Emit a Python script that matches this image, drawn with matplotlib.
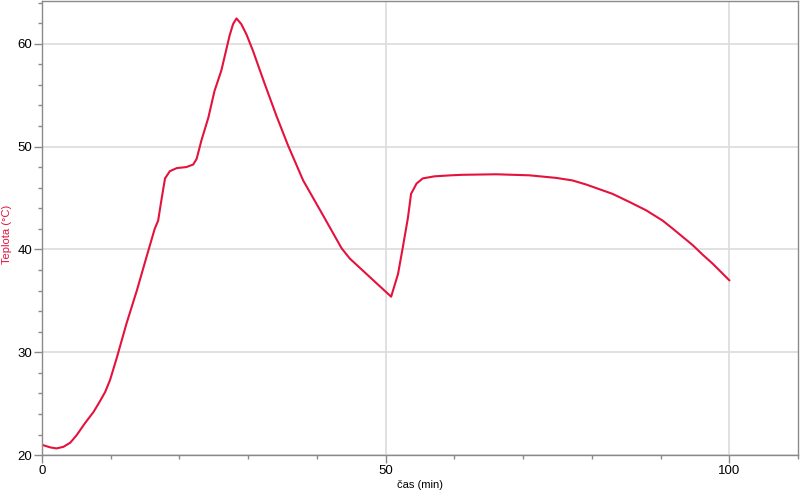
import matplotlib
matplotlib.use("Agg")
import matplotlib.pyplot as plt
from matplotlib.ticker import MultipleLocator

# čas (min) a teplota (°C)
cas = [0.0, 1.2, 2.1, 3.1, 4.1, 5.0, 6.25, 7.5, 8.4, 9.2, 9.9, 10.9, 12.3, 13.8, 15.2,
       16.4, 16.9, 17.4, 17.9, 18.6, 19.6, 21.0, 22.0, 22.5, 23.2, 24.2, 25.1, 26.1,
       27.3, 27.8, 28.3, 29.0, 29.75, 30.7, 32.4, 34.1, 35.8, 38.0, 40.9, 43.6, 44.8,
       48.2, 50.8,
       51.8, 52.5, 53.25, 53.7, 54.5, 55.4, 57.1, 59.5, 61.2, 66.1, 70.9, 74.8, 77.2,
       79.2, 83.0, 85.5, 87.9, 90.3, 91.8, 94.7, 96.1, 97.6, 100.0]
teplota = [21.0, 20.75, 20.65, 20.8, 21.2, 21.9, 23.1, 24.2, 25.2, 26.15, 27.3, 29.5, 32.8, 36.0, 39.25,
           42.0, 42.8, 44.9, 46.9, 47.6, 47.9, 48.0, 48.25, 48.8, 50.6, 52.8, 55.4, 57.4,
           60.8, 61.9, 62.45, 61.9, 60.9, 59.3, 56.1, 53.0, 50.1, 46.7, 43.3, 40.1, 39.1,
           37.0, 35.4,
           37.6, 40.2, 43.1, 45.4, 46.4, 46.9, 47.1, 47.2, 47.25, 47.3, 47.2, 46.95, 46.7,
           46.3, 45.4, 44.6, 43.8, 42.8, 42.0, 40.4, 39.5, 38.6, 37.0]

barva = "#E4123C"
osy = "#8a8a8a"

plt.rcParams['font.family'] = ['Liberation Sans', 'DejaVu Sans']

fig = plt.figure(figsize=(8, 4.92), dpi=100)
ax = fig.add_axes([0.0525, 0.075, 0.945, 0.922])

ax.plot(cas, teplota, color=barva, lw=1.5, solid_joinstyle="round")

ax.set_xlim(0, 110)
ax.set_ylim(20, 64.1)
ax.xaxis.set_major_locator(MultipleLocator(50))
ax.xaxis.set_minor_locator(MultipleLocator(10))
ax.yaxis.set_major_locator(MultipleLocator(10))
ax.yaxis.set_minor_locator(MultipleLocator(2))

ax.grid(True, which="major", color="#dcdcdc", lw=1.2)
ax.set_axisbelow(True)

for s in ax.spines.values():
    s.set_color(osy)
    s.set_linewidth(1.0)

ax.tick_params(which="major", length=5.5, width=1.0, color=osy, labelsize=9.5, pad=1.5)
ax.tick_params(which="minor", length=3, width=1.0, color=osy)

ax.set_xlabel("čas (min)", fontsize=8, labelpad=2)
fig.text(0.009, 0.524, "Teplota (°C)", fontsize=8, color=barva,
         rotation=90, ha="center", va="center")

plt.savefig("out.png", dpi=100)
plt.close()
